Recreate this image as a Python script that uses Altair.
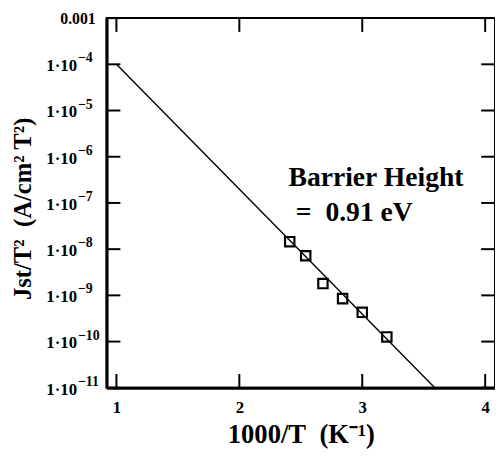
import altair as alt
import pandas as pd

# data
x_pts = [2.41, 2.54, 2.68, 2.84, 3.00, 3.20]
y_pts = [1.45e-8, 7.2e-9, 1.8e-9, 8.5e-10, 4.3e-10, 1.26e-10]
fit_x = [1.0, 3.59]
fit_y = [1e-4, 1e-11]
x_ticks = [1, 2, 3, 4]
y_ticks = [1e-11, 1e-10, 1e-9, 1e-8, 1e-7, 1e-6, 1e-5, 1e-4, 1e-3]
y_dec = [1e-11, 1e-10, 1e-9, 1e-8, 1e-7, 1e-6, 1e-5, 1e-4]
y_base = ["1·10"] * 8
y_exp = ["−11", "−10", "−9", "−8", "−7", "−6", "−5", "−4"]
y_top = [1e-3]
y_top_label = ["0.001"]
anno_text = ["Barrier Height", "=\u00a0 0.91 eV"]
anno_x = [2.40, 2.46]
anno_y = [3.5e-7, 6.0e-8]

W, H = 394, 375
FONT = "Liberation Serif"
TL = 14

xs = alt.Scale(domain=[0.92, 4.08], nice=False, zero=False)
ys = alt.Scale(type="log", domain=[1e-11, 1e-3], nice=False)

pts = pd.DataFrame({"x": x_pts, "y": y_pts})
fit = pd.DataFrame({"x": fit_x, "y": fit_y})
xt = pd.DataFrame({"x": x_ticks})
yt = pd.DataFrame({"y": y_ticks})
yl = pd.DataFrame({"y": y_dec, "b": y_base, "e": y_exp})
ytop = pd.DataFrame({"y": y_top, "t": y_top_label})
ann = pd.DataFrame({"x": anno_x, "y": anno_y, "t": anno_text})

x_axis = alt.Axis(values=x_ticks, format="d", ticks=False, grid=False,
                  labelFont=FONT, labelFontWeight="bold", labelFontSize=17,
                  labelPadding=12, labelColor="black",
                  title="1000/T\u00a0 (K⁻¹)", titleFont=FONT, titleFontWeight="bold",
                  titleFontSize=27, titlePadding=7, titleColor="black",
                  domainColor="black", domainWidth=3)
y_axis = alt.Axis(values=y_ticks, labels=False, ticks=False, grid=False,
                  title="Jst/T²\u00a0 (A/cm² T²)", titleFont=FONT, titleFontWeight="bold",
                  titleFontSize=25, titleColor="black", titleX=-77, titleY=193,
                  titleAlign="center", titleBaseline="alphabetic", titleAngle=-90,
                  domainColor="black", domainWidth=3)

line = alt.Chart(fit).mark_line(color="black", strokeWidth=1.4).encode(
    x=alt.X("x:Q", scale=xs, axis=x_axis),
    y=alt.Y("y:Q", scale=ys, axis=y_axis),
)
squares = alt.Chart(pts).mark_point(shape="square", size=90, filled=False,
                                    color="black", strokeWidth=2.2, opacity=1).encode(
    x=alt.X("x:Q", scale=xs), y=alt.Y("y:Q", scale=ys))

bt = alt.Chart(xt).mark_rule(color="black", strokeWidth=2).encode(
    x=alt.X("x:Q", scale=xs), y=alt.value(H), y2=alt.value(H - TL))
tt = alt.Chart(xt).mark_rule(color="black", strokeWidth=2).encode(
    x=alt.X("x:Q", scale=xs), y=alt.value(0), y2=alt.value(TL))
lt = alt.Chart(yt).mark_rule(color="black", strokeWidth=2).encode(
    y=alt.Y("y:Q", scale=ys), x=alt.value(0), x2=alt.value(TL))
rt = alt.Chart(yt).mark_rule(color="black", strokeWidth=2).encode(
    y=alt.Y("y:Q", scale=ys), x=alt.value(W), x2=alt.value(W - TL))

lab_base = alt.Chart(yl).mark_text(font=FONT, fontWeight="bold", fontSize=17,
                                   align="right", baseline="middle", color="black",
                                   dy=2).encode(
    y=alt.Y("y:Q", scale=ys), x=alt.value(-30), text="b:N")
lab_exp = alt.Chart(yl).mark_text(font=FONT, fontWeight="bold", fontSize=14,
                                  align="left", baseline="middle", color="black",
                                  dy=-6).encode(
    y=alt.Y("y:Q", scale=ys), x=alt.value(-29), text="e:N")
lab_top = alt.Chart(ytop).mark_text(font=FONT, fontWeight="bold", fontSize=16,
                                    align="right", baseline="middle", color="black",
                                    dy=1).encode(
    y=alt.Y("y:Q", scale=ys), x=alt.value(-11), text="t:N")

text = alt.Chart(ann).mark_text(font=FONT, fontWeight="bold", fontSize=28,
                                align="left", baseline="middle", color="black").encode(
    x=alt.X("x:Q", scale=xs), y=alt.Y("y:Q", scale=ys), text="t:N")

chart = alt.layer(line, squares, bt, tt, lt, rt, lab_base, lab_exp, lab_top, text).properties(
    width=W, height=H,
    padding={"left": 100, "top": 7, "right": 0, "bottom": 70},
    autosize=alt.AutoSizeParams(type="none"),
).configure_view(stroke="black", strokeWidth=2).configure_text(font=FONT)

chart.save("out.html", embed_options={"renderer": "svg", "actions": False})
